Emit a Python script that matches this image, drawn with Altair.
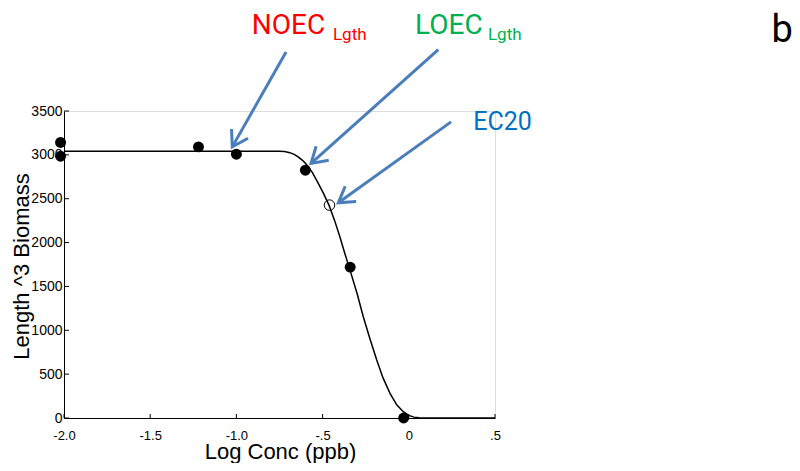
import altair as alt
import pandas as pd
import json

# ---- data ----
pts_x = [-2.02, -2.02, -1.22, -1.0, -0.60, -0.34, -0.03]
pts_y = [3141, 2985, 3091, 3008, 2825, 1720, 0]

ec20_x = [-0.46]
ec20_y = [2427]

curve_x = [-2.0, -1.5, -1.0, -0.75, -0.72, -0.69, -0.665, -0.64, -0.615, -0.59,
           -0.56, -0.525, -0.495, -0.463, -0.43, -0.40, -0.37, -0.34, -0.30,
           -0.264, -0.225, -0.186, -0.15, -0.109, -0.07, -0.032, 0.0, 0.03,
           0.06, 0.1, 0.5]
curve_y = [3040, 3040, 3040, 3040, 3038, 3025, 3005, 2975, 2935, 2883,
           2800, 2674, 2560, 2427, 2250, 2066, 1870, 1680, 1420,
           1154, 900, 661, 460, 281, 150, 72, 30, 10,
           3, 0, 0]

x_ticks = [-2.0, -1.5, -1.0, -0.5, 0.0, 0.5]
x_tick_labels = ["-2.0", "-1.5", "-1.0", "-.5", "0", ".5"]
y_ticks = [0, 500, 1000, 1500, 2000, 2500, 3000, 3500]

# annotation arrows (tail -> tip), data units
arrow_name = ["NOEC", "LOEC", "EC20"]
arrow_x = [-0.712, 0.171, 0.245]
arrow_y = [4173, 4201, 3376]
arrow_x2 = [-1.024, -0.567, -0.409]
arrow_y2 = [3091, 2902, 2453]
arrow_angle = [119.5, 138.2, 144.3]

# annotation texts
txt = ["NOEC", "LOEC"]
txt_x = [-0.911, 0.036]
txt_y = [4383, 4383]
txt_color = ["#FF0000", "#00B050"]
sub = ["Lgth", "Lgth"]
sub_x = [-0.440, 0.459]
sub_y = [4307, 4307]

ec_label = ["EC20"]
ec_label_x = [0.374]
ec_label_y = [3289]

panel = ["b"]
panel_x = [2.104]
panel_y = [4287]

W, H = 431, 307
xs = alt.Scale(domain=[-2.0, 0.5], nice=False, zero=False)
ys = alt.Scale(domain=[0, 3500], nice=False, zero=False)

label_expr = "%s[indexof(%s, datum.value)]" % (json.dumps(x_tick_labels), json.dumps(x_ticks))

pts = pd.DataFrame({"x": pts_x, "y": pts_y})
ec = pd.DataFrame({"x": ec20_x, "y": ec20_y})
cur = pd.DataFrame({"x": curve_x, "y": curve_y})
arr = pd.DataFrame({"name": arrow_name, "x": arrow_x, "y": arrow_y,
                    "x2": arrow_x2, "y2": arrow_y2, "angle": arrow_angle})
tdf = pd.DataFrame({"t": txt, "x": txt_x, "y": txt_y, "c": txt_color})
sdf = pd.DataFrame({"t": sub, "x": sub_x, "y": sub_y, "c": txt_color})
edf = pd.DataFrame({"t": ec_label, "x": ec_label_x, "y": ec_label_y})
pdf = pd.DataFrame({"t": panel, "x": panel_x, "y": panel_y})
xt = pd.DataFrame({"x": x_ticks})
yt = pd.DataFrame({"y": y_ticks})

base_x_axis = alt.Axis(values=x_ticks, labelExpr=label_expr, title="Log Conc (ppb)",
                       tickSize=0, labelPadding=11, labelFontSize=13,
                       labelFont="Liberation Sans", labelColor="black",
                       labelFlush=False, labelOverlap=False,
                       domainColor="black", grid=False,
                       titleFont="Liberation Sans", titleFontSize=22,
                       titleFontWeight="normal", titleColor="black",
                       titleX=216, titleY=40, titleBaseline="alphabetic",
                       titleAlign="center")
base_y_axis = alt.Axis(values=y_ticks, format="d", title="Length ^3  Biomass",
                       tickSize=0, labelPadding=2, labelFontSize=14,
                       labelFont="Liberation Sans", labelColor="black",
                       labelFlush=False, labelOverlap=False,
                       domainColor="black", grid=False,
                       titleFont="Liberation Sans", titleFontSize=22,
                       titleFontWeight="normal", titleColor="black",
                       titleAngle=270, titleX=-36, titleY=155,
                       titleBaseline="alphabetic", titleAlign="center")

line = alt.Chart(cur).mark_line(color="black", strokeWidth=1.5, clip=False).encode(
    x=alt.X("x:Q", scale=xs, axis=base_x_axis),
    y=alt.Y("y:Q", scale=ys, axis=base_y_axis),
)

xtick = alt.Chart(xt).mark_rule(color="black", strokeWidth=1).encode(
    x=alt.X("x:Q", scale=xs), y=alt.value(H), y2=alt.value(H - 4))
ytick = alt.Chart(yt).mark_rule(color="black", strokeWidth=1).encode(
    y=alt.Y("y:Q", scale=ys), x=alt.value(0), x2=alt.value(5))

dots = alt.Chart(pts).mark_point(filled=True, color="black", size=120, opacity=1, clip=False).encode(
    x=alt.X("x:Q", scale=xs), y=alt.Y("y:Q", scale=ys))
open_dot = alt.Chart(ec).mark_point(filled=False, color="black", size=110, strokeWidth=1, opacity=1).encode(
    x=alt.X("x:Q", scale=xs), y=alt.Y("y:Q", scale=ys))

arrow_color = "#4A7EBB"
shafts = alt.Chart(arr).mark_rule(color=arrow_color, strokeWidth=3, clip=False).encode(
    x=alt.X("x:Q", scale=xs), y=alt.Y("y:Q", scale=ys), x2="x2:Q", y2="y2:Q")
heads = alt.Chart(arr).mark_point(shape="M -1 -0.62 L 0 0 L -1 0.62", filled=False,
                                  color=arrow_color, strokeWidth=3, size=930,
                                  opacity=1, clip=False,
                                  strokeJoin="miter").encode(
    x=alt.X("x2:Q", scale=xs), y=alt.Y("y2:Q", scale=ys),
    angle=alt.Angle("angle:Q", scale=None))

main_txt = alt.Chart(tdf).mark_text(font="Roboto", fontSize=28, align="left",
                                    baseline="alphabetic", clip=False).encode(
    x=alt.X("x:Q", scale=xs), y=alt.Y("y:Q", scale=ys), text="t:N",
    color=alt.Color("c:N", scale=None))
sub_txt = alt.Chart(sdf).mark_text(font="Roboto", fontSize=17, align="left",
                                   baseline="alphabetic", clip=False).encode(
    x=alt.X("x:Q", scale=xs), y=alt.Y("y:Q", scale=ys), text="t:N",
    color=alt.Color("c:N", scale=None))
ec_txt = alt.Chart(edf).mark_text(font="Roboto", fontSize=25, align="left",
                                  baseline="alphabetic", color="#0070C0", clip=False).encode(
    x=alt.X("x:Q", scale=xs), y=alt.Y("y:Q", scale=ys), text="t:N")
b_txt = alt.Chart(pdf).mark_text(font="Roboto", fontSize=38, align="left",
                                 baseline="alphabetic", color="black", clip=False).encode(
    x=alt.X("x:Q", scale=xs), y=alt.Y("y:Q", scale=ys), text="t:N")

chart = alt.layer(line, xtick, ytick, dots, open_dot, shafts, heads,
                  main_txt, sub_txt, ec_txt, b_txt).properties(
    width=W, height=H,
    autosize=alt.AutoSizeParams(type="none"),
    padding={"left": 56, "top": 103, "right": 297, "bottom": 45},
).configure_view(stroke=None).configure(background="white")

chart.save("out.html", embed_options={"renderer": "svg", "actions": False})
